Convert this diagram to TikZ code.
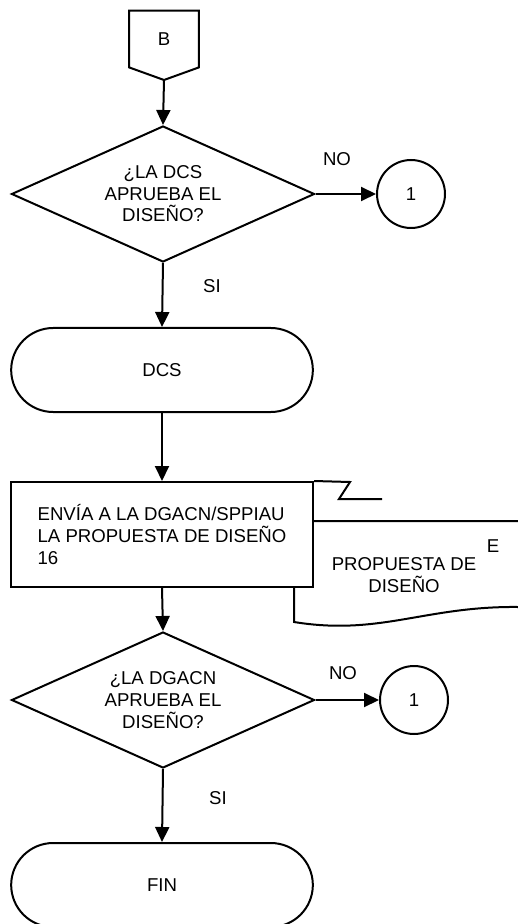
\documentclass[tikz,border=0pt]{standalone}
\usepackage{fontspec}
\setmainfont{Liberation Sans}
\usetikzlibrary{shapes.geometric,shapes.misc,arrows.meta}

\begin{document}
\begin{tikzpicture}[x=0.5pt,y=-0.5pt,
    every node/.style={font=\fontsize{9.3}{10.8}\selectfont},
    line/.style={line width=1pt},
    flow/.style={line, -{Triangle[length=7.5pt,width=7pt]}},
    decision/.style={diamond, draw, line width=1pt, aspect=2.2, minimum width=151.5pt, minimum height=68pt, inner sep=0pt, align=center},
    terminal/.style={rounded rectangle, draw, line width=1pt, minimum width=157.5pt, minimum height=42pt},
    process/.style={rectangle, draw, fill=white, line width=1pt, minimum width=151pt, minimum height=52.5pt, align=left},
    connector/.style={circle, draw, line width=1pt, minimum size=34pt, inner sep=0pt},
    offpage/.style={minimum width=34.5pt, minimum height=28pt, inner sep=0pt},
    answer/.style={inner sep=1pt}]
    \useasboundingbox (0,0) rectangle (518,924);

    % Off-page connector B
    \node[offpage] (b) at (164,39) {B};
    \coordinate (bTip) at (164,80);
    \draw[line] (b.north west) -- (b.north east) -- (b.south east) -- (bTip) -- (b.south west) -- cycle;

    % First decision
    \node[decision] (d1) at (163,194) {¿LA DCS\\APRUEBA EL\\DISEÑO?};
    \node[connector] (c1) at (411,194) {1};
    \draw[flow] (bTip) -- (d1.north);
    \draw[flow] (d1.east) -- (c1.west);
    \node[answer] (no1) at (337,159) {NO};
    \node[answer] (si1) at (212,286) {SI};

    \node[terminal] (dcs) at (162,370) {DCS};
    \draw[flow] (d1.south) -- (dcs.north);

    % Document behind the process box
    \coordinate (docTL) at (294,521);
    \coordinate (docTR) at (518,521);
    \coordinate (docBR) at (518,607);
    \coordinate (docBL) at (294,622);
    \draw[line] (docTR) -- (docTL) -- (docBL) .. controls (380,636) and (425,606) .. (docBR);
    \node (e) at (493,546) {E};
    \node[align=center] (doc) at (404,575) {PROPUESTA DE\\DISEÑO};

    % Process
    \node[process] (envia) at (162,534.5) {ENVÍA A LA DGACN/SPPIAU\\LA PROPUESTA DE DISEÑO\\16};
    \coordinate (z1) at (350,482);
    \coordinate (z2) at (339,499);
    \coordinate (z3) at (382,499);
    \draw[line] (envia.north east) -- (z1) -- (z2) -- (z3);
    \draw[flow] (dcs.south) -- (envia.north);

    % Second decision
    \node[decision] (d2) at (163,700) {¿LA DGACN\\APRUEBA EL\\DISEÑO?};
    \node[connector] (c2) at (414,700) {1};
    \draw[flow] (envia.south) -- (d2.north);
    \draw[flow] (d2.east) -- (c2.west);
    \node[answer] (no2) at (343,673) {NO};
    \node[answer] (si2) at (218,798) {SI};

    \node[terminal] (fin) at (162,885) {FIN};
    \draw[flow] (d2.south) -- (fin.north);
\end{tikzpicture}
\end{document}
